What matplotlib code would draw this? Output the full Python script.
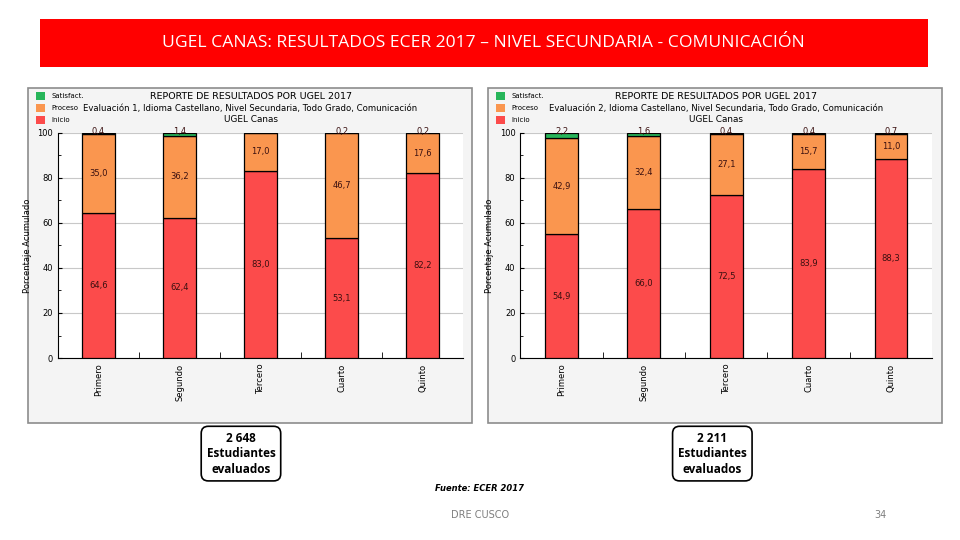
import matplotlib.pyplot as plt
from matplotlib.patches import Rectangle
import numpy as np

grados = ["Primero", "Segundo", "Tercero", "Cuarto", "Quinto"]

# Evaluacion 1
inicio_1 = [64.6, 62.4, 83.0, 53.1, 82.2]
proceso_1 = [35.0, 36.2, 17.0, 46.7, 17.6]
satisf_1 = [0.4, 1.4, 0.0, 0.2, 0.2]

# Evaluacion 2
inicio_2 = [54.9, 66.0, 72.5, 83.9, 88.3]
proceso_2 = [42.9, 32.4, 27.1, 15.7, 11.0]
satisf_2 = [2.2, 1.6, 0.4, 0.4, 0.7]

n_eval = ["2 648", "2 211"]

C_INI = "#fc4b4b"
C_PRO = "#fa964f"
C_SAT = "#27b55a"

fig = plt.figure(figsize=(9.6, 5.4), dpi=100)

# bandeau rouge du titre
fig.patches.append(Rectangle((0.0417, 0.876), 0.925, 0.089, transform=fig.transFigure,
                             facecolor="#ff0000", edgecolor="none", zorder=-2))
fig.text(0.504, 0.92, "UGEL CANAS: RESULTADOS ECER 2017 – NIVEL SECUNDARIA - COMUNICACIÓN",
         color="white", fontsize=12.6, ha="center", va="center", family="Open Sans")


def panel(px, pw, ax_left, ax_w, ini, pro, sat):
    # fond gris du panneau
    fig.patches.append(Rectangle((px, 0.217), pw, 0.62, transform=fig.transFigure,
                                 facecolor="#f4f4f4", edgecolor="#8c8c8c", lw=1.2, zorder=-1))
    ax = fig.add_axes([ax_left, 0.337, ax_w, 0.417])
    x = np.arange(len(grados))
    ini = np.array(ini)
    pro = np.array(pro)
    sat = np.array(sat)
    w = 0.4
    ax.bar(x, ini, w, color=C_INI, edgecolor="black", lw=0.9, zorder=3)
    ax.bar(x, pro, w, bottom=ini, color=C_PRO, edgecolor="black", lw=0.9, zorder=3)
    ax.bar(x, sat, w, bottom=ini + pro, color=C_SAT, edgecolor="black", lw=0.9, zorder=3)

    for i in range(len(x)):
        ax.text(x[i], ini[i] / 2, f"{ini[i]:.1f}".replace(".", ","), ha="center", va="center",
                fontsize=6, color="#3a1010", zorder=4)
        ax.text(x[i], ini[i] + pro[i] / 2, f"{pro[i]:.1f}".replace(".", ","), ha="center",
                va="center", fontsize=6, color="#3a1010", zorder=4)
        if sat[i] > 0:
            ax.text(x[i], 100.5, f"{sat[i]:.1f}".replace(".", ","), ha="center", va="center",
                    fontsize=6, color="#3a1010", zorder=4)

    ax.set_xlim(-0.5, len(x) - 0.5)
    ax.set_ylim(0, 100)
    ax.set_yticks([0, 20, 40, 60, 80, 100])
    ax.set_yticks(np.arange(0, 101, 10), minor=True)
    ax.set_xticks(x)
    ax.set_xticklabels(grados, rotation=90, fontsize=6)
    ax.set_xticks(np.arange(0.5, len(x) - 0.5, 1), minor=True)
    ax.tick_params(axis="x", which="major", length=0, pad=4)
    ax.tick_params(axis="x", which="minor", length=4, direction="in")
    ax.tick_params(axis="y", labelsize=6, length=3, direction="in")
    ax.tick_params(axis="y", which="minor", length=2, direction="in")
    ax.grid(axis="y", color="#c8c8c8", lw=0.8, zorder=0)
    ax.spines["top"].set_visible(False)
    ax.spines["right"].set_visible(False)
    ax.set_ylabel("Porcentaje Acumulado", fontsize=6, labelpad=4)
    return ax


panel(0.029, 0.463, 0.0604, 0.422, inicio_1, proceso_1, satisf_1)
panel(0.508, 0.473, 0.542, 0.429, inicio_2, proceso_2, satisf_2)

# titres et legendes des deux graphiques
for cx, lx, ev in [(0.261, 0.038, "1"), (0.746, 0.517, "2")]:
    fig.text(cx, 0.822, "REPORTE DE RESULTADOS POR UGEL 2017", ha="center", va="center", fontsize=6.8)
    fig.text(cx, 0.8, f"Evaluación {ev}, Idioma Castellano, Nivel Secundaria, Todo Grado, Comunicación",
             ha="center", va="center", fontsize=6.1)
    fig.text(cx, 0.778, "UGEL Canas", ha="center", va="center", fontsize=6.4)
    for k, (lab, col) in enumerate([("Satisfact.", C_SAT), ("Proceso", C_PRO), ("Inicio", C_INI)]):
        yy = 0.822 - k * 0.022
        fig.patches.append(Rectangle((lx, yy - 0.008), 0.009, 0.016, transform=fig.transFigure,
                                     facecolor=col, edgecolor="none"))
        fig.text(lx + 0.016, yy, lab, ha="left", va="center", fontsize=5)

# encadres nombre d'evalues
for cx, num in [(0.251, n_eval[0]), (0.742, n_eval[1])]:
    fig.text(cx, 0.16, f"{num}\nEstudiantes\nevaluados", ha="center", va="center",
             fontsize=8.5, fontweight="bold", linespacing=1.25, family="Open Sans",
             bbox=dict(boxstyle="round,pad=0.45,rounding_size=0.6", facecolor="white",
                       edgecolor="black", lw=1.2))

fig.text(0.499, 0.096, "Fuente: ECER 2017", ha="center", va="center", fontsize=6,
         style="italic", fontweight="bold")
fig.text(0.5, 0.046, "DRE CUSCO", ha="center", va="center", fontsize=7, color="#7f7f7f")
fig.text(0.917, 0.046, "34", ha="center", va="center", fontsize=7, color="#7f7f7f")

fig.savefig("out.png", dpi=100)
